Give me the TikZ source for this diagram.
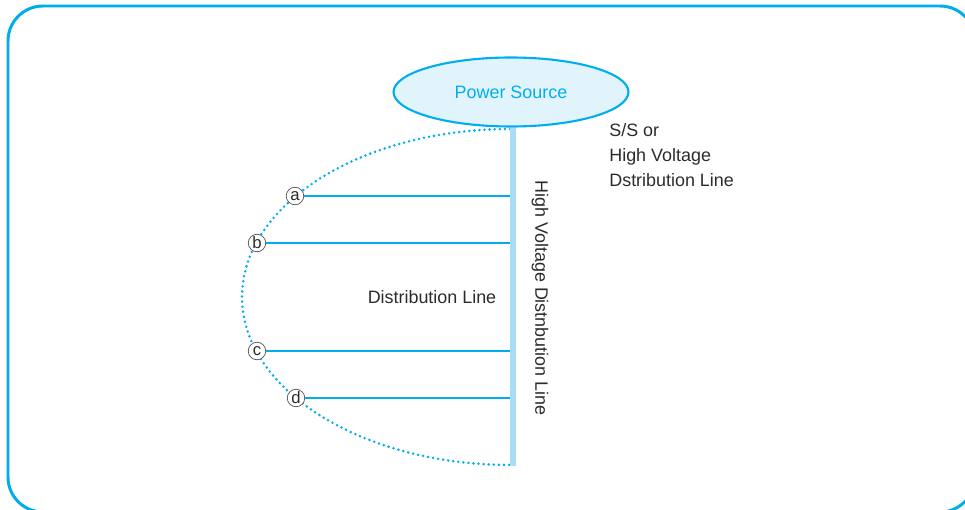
\documentclass[tikz,border=0pt]{standalone}
\usepackage{fontspec}
\setmainfont{Liberation Sans}
\usetikzlibrary{shapes.geometric}
\definecolor{kcyan}{HTML}{00AEEF}
\definecolor{kpale}{HTML}{E1F4FB}
\definecolor{kbar}{HTML}{A9DDF6}
\definecolor{ktext}{HTML}{2B2B2B}
\tikzset{%
    panel/.style={draw=kcyan,line width=1.7pt,rounded corners=0.7cm},
    source/.style={ellipse,draw=kcyan,line width=1.2pt,fill=kpale,minimum width=4.7cm,minimum height=1.38cm,text=kcyan,font=\fontsize{10.2}{12}\selectfont},
    note/.style={text=ktext,font=\fontsize{10.2}{14.2}\selectfont,inner sep=0pt},
    tap/.style={circle,draw=ktext!80,thin,fill=white,minimum size=0.35cm,inner sep=0pt,text=ktext,font=\fontsize{9.5}{10}\selectfont},
    feeder/.style={draw=kcyan,line width=0.7pt},
    trunk/.style={draw=kbar,line width=3.4pt},
    ring/.style={draw=kcyan,line width=1.6pt,line cap=round,dash pattern=on 0pt off 2.9pt},
}

\begin{document}
\begin{tikzpicture}[x=0.02cm,y=-0.02cm]
	\useasboundingbox (0,0) rectangle (965,510);
	
	%outer panel
	\draw[panel] (8,6) rectangle (975,512);
	
	\coordinate (top) at (513,128);
	\coordinate (bot) at (513,466);
	
	%open loop
	\draw[ring] (510,129) arc[start angle=90,end angle=270,x radius=5.36cm,y radius=3.36cm];
	
	\foreach \n/\x/\y in {a/295/196,b/257/243,c/257/351,d/296/398}
		\node[tap] (\n) at (\x,\y) {\n};
	
	%distribution lines
	\foreach \n in {a,b,c,d}
		\draw[feeder] (\n) -- (\n -| top);
	
	\draw[trunk] (top) -- (bot);
	
	\node[source] (src) at (511,92) {Power Source};
	
	\node[note] (dist) at (432,297) {Distribution Line};
	\node[note,rotate=-90] (hvdl) at (540,298) {High Voltage Distnbution Line};
	\node[note,align=left,anchor=west] (ss) at (609,155) {S/S or\\High Voltage\\Dstribution Line};
	
\end{tikzpicture}
\end{document}
